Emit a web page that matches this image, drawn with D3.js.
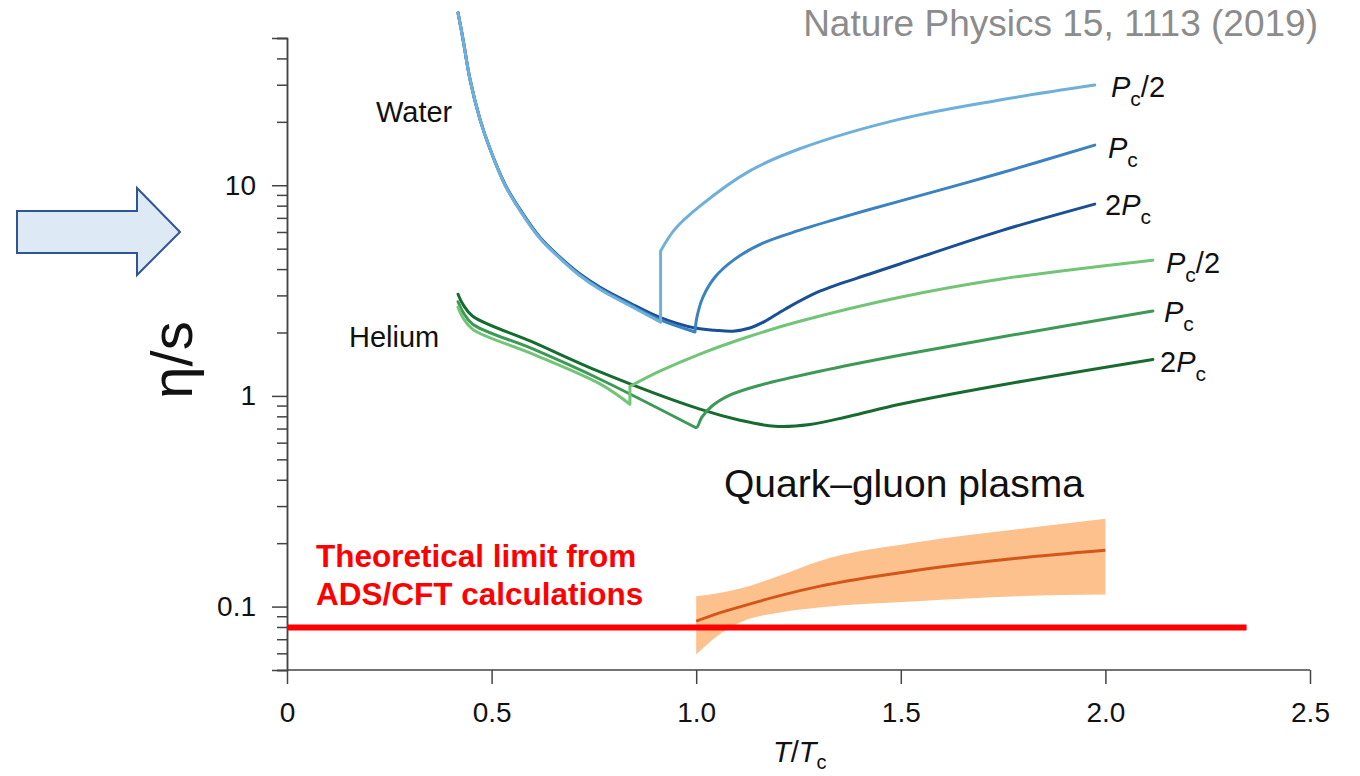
<!DOCTYPE html>
<html><head><meta charset="utf-8">
<script src="https://cdn.jsdelivr.net/npm/d3@7"></script>
<style>
body{margin:0;background:#fff;}
text{font-family:"Liberation Sans",Arial,Helvetica,sans-serif;}
</style></head>
<body><svg id="chart" width="1360" height="776"></svg>
<script>
// ---------- data (T/Tc, eta/s) ----------
const xTicks = [0, 0.5, 1.0, 1.5, 2.0, 2.5];
const xTickLabels = ["0", "0.5", "1.0", "1.5", "2.0", "2.5"];
const yMajorTicks = [0.1, 1, 10];
const yTickLabels = ["0.1", "1", "10"];

// Water
const waterHalfLiquid = [[0.418,65.8],[0.430,49.5],[0.447,32.0],[0.4715,20.6],[0.496,14.9],[0.533,10.0],[0.569,7.6],[0.618,5.6],[0.667,4.5],[0.716,3.72],[0.765,3.2],[0.838,2.68],[0.913,2.24]];
const waterHalfGas = [[0.913,4.87],[0.948,6.19],[1.009,7.96],[1.131,11.7],[1.253,14.9],[1.498,20.6],[1.742,25.4],[1.974,29.9]];
const waterPcLiquid = [[0.418,65.8],[0.430,49.5],[0.447,32.0],[0.4715,20.6],[0.496,14.9],[0.533,10.0],[0.569,7.65],[0.618,5.62],[0.667,4.52],[0.716,3.75],[0.765,3.23],[0.838,2.71],[0.911,2.30],[0.997,2.01]];
const waterPcGas = [[0.997,2.01],[1.0017,2.36],[1.0164,2.94],[1.0457,3.66],[1.0945,4.46],[1.163,5.31],[1.2534,6.12],[1.3755,7.21],[1.4977,8.41],[1.742,11.4],[1.974,15.5]];
const water2Pc = [[0.418,65.8],[0.430,49.5],[0.447,32.0],[0.4715,20.6],[0.496,14.9],[0.533,10.1],[0.569,7.71],[0.618,5.67],[0.667,4.56],[0.716,3.79],[0.765,3.28],[0.838,2.76],[0.911,2.36],[0.997,2.10],[1.0457,2.05],[1.0897,2.03],[1.131,2.10],[1.168,2.26],[1.217,2.58],[1.302,3.14],[1.424,3.79],[1.4977,4.23],[1.742,6.06],[1.974,8.14]];

// Helium
const heliumHalfLiquid = [[0.418,2.64],[0.430,2.35],[0.454,2.07],[0.601,1.58],[0.765,1.14],[0.838,0.913]];
const heliumHalfGas = [[0.838,1.11],[0.911,1.31],[1.009,1.58],[1.131,1.92],[1.253,2.26],[1.498,2.94],[1.742,3.58],[2.116,4.41]];
const heliumPcLiquid = [[0.418,2.80],[0.430,2.50],[0.454,2.19],[0.601,1.67],[0.765,1.20],[0.997,0.710]];
const heliumPcGas = [[0.997,0.710],[1.0017,0.710],[1.0139,0.793],[1.038,0.893],[1.082,1.008],[1.1556,1.124],[1.302,1.31],[1.4977,1.56],[1.742,1.90],[2.116,2.53]];
const helium2Pc = [[0.418,3.04],[0.430,2.72],[0.454,2.39],[0.601,1.80],[0.765,1.30],[1.009,0.865],[1.107,0.767],[1.192,0.718],[1.278,0.732],[1.375,0.801],[1.498,0.913],[1.742,1.124],[2.116,1.49]];

// Quark-gluon plasma band
const qgpT      = [1.0, 1.05, 1.107, 1.212, 1.3, 1.539, 1.784, 2.0];
const qgpCenter = [0.0853, 0.0923, 0.0997, 0.1137, 0.1247, 0.1487, 0.1696, 0.185];
const qgpUpper  = [0.112, 0.1155, 0.122, 0.1419, 0.164, 0.2018, 0.2326, 0.261];
const qgpLower  = [0.0593, 0.0722, 0.0841, 0.0942, 0.099, 0.106, 0.112, 0.114];

const kssLimit = 1 / (4 * Math.PI);
const kssRange = [0, 2.345];

// ---------- drawing ----------
const svg = d3.select("#chart");
const x = d3.scaleLinear().domain([0, 2.5]).range([287, 1310]);
const y = d3.scaleLog().domain([0.05, 50]).range([670, 38]);

const colors = {
  wHalf: "#6fb0da", wPc: "#3a82c0", w2Pc: "#1a4f94",
  hHalf: "#73c476", hPc: "#3d9a56", h2Pc: "#176b31",
  band: "#fcc18d", qgp: "#d4561a", red: "#ff0000", axis: "#444"
};

// arrow decoration
svg.append("path")
  .attr("d", "M17,211 L137,211 L137,188 L180,232 L137,275 L137,253 L17,253 Z")
  .attr("fill", "#dde9f5").attr("stroke", "#2f5597").attr("stroke-width", 2);

// axes
const gy = svg.append("g").attr("transform", "translate(287,0)");
const minorY = [];
for (let d = 0.01; d < 100; d *= 10) for (let k = 2; k <= 9; k++) { const v = k * d; if (v >= 0.05 && v <= 50.0001) minorY.push(v); }
gy.call(d3.axisLeft(y).tickValues(minorY).tickSize(10).tickFormat(""));
gy.append("g").call(d3.axisLeft(y).tickValues(yMajorTicks).tickSize(15).tickPadding(16)
  .tickFormat((d,i) => yTickLabels[i]));
gy.selectAll("path,line").attr("stroke", colors.axis).attr("stroke-width", 1.5);
gy.selectAll("text").attr("font-size", 28).attr("fill", "#111").style("font-family", "Liberation Sans, Arial, sans-serif");

const gx = svg.append("g").attr("transform", "translate(0,670)");
gx.call(d3.axisBottom(x).tickValues(xTicks).tickSize(14).tickPadding(18)
  .tickFormat((d,i) => xTickLabels[i]));
gx.selectAll("path,line").attr("stroke", colors.axis).attr("stroke-width", 1.5);
gx.select(".domain").attr("d", "M287,0H1310");
gx.selectAll("text").attr("font-size", 28).attr("fill", "#111").style("font-family", "Liberation Sans, Arial, sans-serif");

// QGP band
const qgp = qgpT.map((t, i) => ({t, c: qgpCenter[i], u: qgpUpper[i], l: qgpLower[i]}));
svg.append("path").datum(qgp)
  .attr("d", d3.area().x(d => x(d.t)).y0(d => y(d.l)).y1(d => y(d.u)).curve(d3.curveMonotoneX))
  .attr("fill", colors.band);
svg.append("path").datum(qgp)
  .attr("d", d3.line().x(d => x(d.t)).y(d => y(d.c)).curve(d3.curveMonotoneX))
  .attr("fill", "none").attr("stroke", colors.qgp).attr("stroke-width", 3);

// KSS red line
svg.append("line")
  .attr("x1", x(kssRange[0])).attr("x2", x(kssRange[1]))
  .attr("y1", y(kssLimit)).attr("y2", y(kssLimit))
  .attr("stroke", colors.red).attr("stroke-width", 6);

// curves
const line = d3.line().x(d => x(d[0])).y(d => y(d[1])).curve(d3.curveCatmullRom.alpha(0.5));
function drawCurve(segments, color) {
  let d = "";
  segments.forEach((seg, i) => {
    let s = line(seg);
    if (i > 0) s = "L" + s.slice(1);
    d += s;
  });
  svg.append("path").attr("d", d).attr("fill", "none").attr("stroke", color)
    .attr("stroke-width", 3).attr("stroke-linejoin", "round").attr("stroke-linecap", "round");
}
drawCurve([helium2Pc], colors.h2Pc);
drawCurve([heliumPcLiquid, heliumPcGas], colors.hPc);
drawCurve([heliumHalfLiquid, heliumHalfGas], colors.hHalf);
drawCurve([water2Pc], colors.w2Pc);
drawCurve([waterPcLiquid, waterPcGas], colors.wPc);
drawCurve([waterHalfLiquid, waterHalfGas], colors.wHalf);

// text labels
function pLabel(xp, yp, pre, post) {
  const t = svg.append("text").attr("x", xp).attr("y", yp).attr("font-size", 29).attr("fill", "#111");
  if (pre) t.append("tspan").text(pre);
  t.append("tspan").attr("font-style", "italic").text("P");
  t.append("tspan").attr("font-size", 21).attr("dy", 9).text("c");
  if (post) t.append("tspan").attr("dy", -9).text(post);
}
pLabel(1111, 97, "", "/2");
pLabel(1108, 158, "", "");
pLabel(1105, 215, "2", "");
pLabel(1166, 273, "", "/2");
pLabel(1164, 322, "", "");
pLabel(1160, 372, "2", "");

svg.append("text").attr("x", 376).attr("y", 122).attr("font-size", 29).attr("fill", "#111").text("Water");
svg.append("text").attr("x", 349).attr("y", 347).attr("font-size", 29).attr("fill", "#111").text("Helium");
svg.append("text").attr("x", 724).attr("y", 497).attr("font-size", 39).attr("fill", "#111").text("Quark–gluon plasma");

svg.append("text").attr("x", 316).attr("y", 567).attr("font-size", 31.5).attr("font-weight", "bold")
  .attr("fill", colors.red).text("Theoretical limit from");
svg.append("text").attr("x", 316).attr("y", 605).attr("font-size", 31.5).attr("font-weight", "bold")
  .attr("fill", colors.red).text("ADS/CFT calculations");

svg.append("text").attr("x", 1318).attr("y", 36).attr("text-anchor", "end").attr("font-size", 37)
  .attr("fill", "#8c8c8c").text("Nature Physics 15, 1113 (2019)");

// axis titles
const xt = svg.append("text").attr("x", 773).attr("y", 762).attr("font-size", 29).attr("fill", "#111");
xt.append("tspan").attr("font-style", "italic").text("T");
xt.append("tspan").text("/");
xt.append("tspan").attr("font-style", "italic").text("T");
xt.append("tspan").attr("font-size", 20).attr("dy", 7).text("c");

svg.append("text").attr("transform", "translate(192,360) rotate(-90)").attr("text-anchor", "middle")
  .attr("font-size", 58).attr("fill", "#111").text("η/s");
</script></body></html>
